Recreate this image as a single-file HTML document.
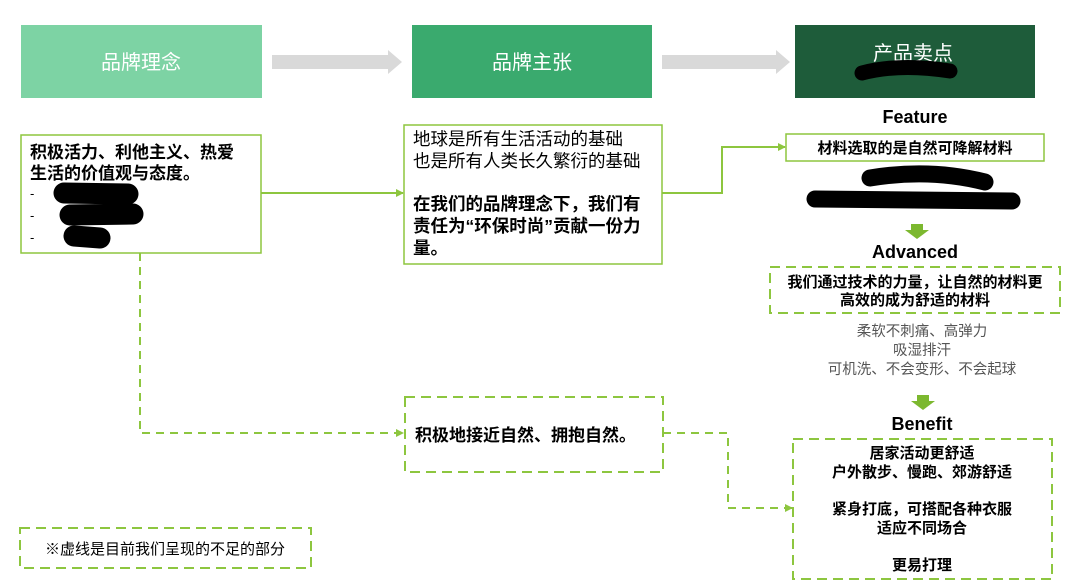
<!DOCTYPE html><html><head><meta charset="utf-8"><style>body{margin:0;background:#fff}svg{display:block}text{font-family:"Liberation Sans","Noto Sans CJK SC",sans-serif}</style></head><body>
<svg width="1080" height="584" xmlns="http://www.w3.org/2000/svg">
<defs><marker id="a" markerWidth="8" markerHeight="8" refX="7" refY="4" orient="auto" markerUnits="userSpaceOnUse"><path d="M0,0L8,4L0,8z" fill="#8dc63f"/></marker></defs>
<rect x="21" y="25" width="241" height="73" fill="#7dd3a4"/>
<text x="141" y="69" font-size="20" fill="#fff" text-anchor="middle">品牌理念</text>
<rect x="412" y="25" width="240" height="73" fill="#3aaa6e"/>
<text x="532" y="69" font-size="20" fill="#fff" text-anchor="middle">品牌主张</text>
<rect x="795" y="25" width="240" height="73" fill="#1e5c3a"/>
<text x="913" y="60" font-size="20" fill="#fff" text-anchor="middle">产品卖点</text>
<path d="M862,73 Q900,63 950,71" stroke="#000" stroke-width="15" stroke-linecap="round" fill="none"/>
<polygon points="272,55 388,55 388,50 402,62 388,74 388,69 272,69" fill="#d9d9d9"/>
<polygon points="662,55 776,55 776,50 790,62 776,74 776,69 662,69" fill="#d9d9d9"/>
<text x="915" y="123" font-size="18" font-weight="bold" text-anchor="middle">Feature</text>
<rect x="786" y="134" width="258" height="27" fill="#fff" stroke="#8dc63f" stroke-width="1.5"/>
<text x="915" y="153" font-size="15" font-weight="bold" text-anchor="middle">材料选取的是自然可降解材料</text>
<path d="M870,178 Q930,168 985,182" stroke="#000" stroke-width="17" stroke-linecap="round" fill="none"/>
<path d="M815,199 L1012,201" stroke="#000" stroke-width="17" stroke-linecap="round" fill="none"/>
<polygon points="911,224 923,224 923,230 929,230 917,239 905,230 911,230" fill="#7cb82f"/>
<text x="915" y="258" font-size="18" font-weight="bold" text-anchor="middle">Advanced</text>
<rect x="770" y="267" width="290" height="46" fill="#fff" stroke="#8dc63f" stroke-width="2" stroke-dasharray="10,6"/>
<text x="915" y="287" font-size="15" font-weight="bold" text-anchor="middle">我们通过技术的力量，让自然的材料更</text>
<text x="915" y="305" font-size="15" font-weight="bold" text-anchor="middle">高效的成为舒适的材料</text>
<text x="922" y="336" font-size="14.5" fill="#555" text-anchor="middle">柔软不刺痛、高弹力</text>
<text x="922" y="355" font-size="14.5" fill="#555" text-anchor="middle">吸湿排汗</text>
<text x="922" y="374" font-size="14.5" fill="#555" text-anchor="middle">可机洗、不会变形、不会起球</text>
<polygon points="917,395 929,395 929,401 935,401 923,410 911,401 917,401" fill="#7cb82f"/>
<text x="922" y="430" font-size="18" font-weight="bold" text-anchor="middle">Benefit</text>
<rect x="793" y="439" width="259" height="140" fill="#fff" stroke="#8dc63f" stroke-width="2" stroke-dasharray="10,6"/>
<g font-size="15" font-weight="bold" text-anchor="middle"><text x="922" y="458">居家活动更舒适</text><text x="922" y="477">户外散步、慢跑、郊游舒适</text><text x="922" y="514">紧身打底，可搭配各种衣服</text><text x="922" y="533">适应不同场合</text><text x="922" y="570">更易打理</text></g>
<rect x="21" y="135" width="240" height="118" fill="#fff" stroke="#8dc63f" stroke-width="1.5"/>
<text x="30" y="158" font-size="17" font-weight="bold">积极活力、利他主义、热爱</text>
<text x="30" y="179" font-size="17" font-weight="bold">生活的价值观与态度。</text>
<text x="30" y="198" font-size="13">-</text><text x="30" y="220" font-size="13">-</text><text x="30" y="242" font-size="13">-</text>
<path d="M64,193 L128,194 M70,215 L133,214 M74,236 L100,238" stroke="#000" stroke-width="21" stroke-linecap="round" fill="none"/>
<rect x="404" y="125" width="258" height="139" fill="#fff" stroke="#8dc63f" stroke-width="1.5"/>
<g font-size="17.5"><text x="413" y="145">地球是所有生活活动的基础</text><text x="413" y="167">也是所有人类长久繁衍的基础</text></g>
<g font-size="17.5" font-weight="bold"><text x="413" y="210">在我们的品牌理念下，我们有</text><text x="413" y="232">责任为“环保时尚”贡献一份力</text><text x="413" y="254">量。</text></g>
<path d="M261,193 L403,193" stroke="#8dc63f" stroke-width="2" fill="none" marker-end="url(#a)"/>
<path d="M662,193 L722,193 L722,147 L785,147" stroke="#8dc63f" stroke-width="2" fill="none" marker-end="url(#a)"/>
<path d="M140,253 L140,433 L403,433" stroke="#8dc63f" stroke-width="2" stroke-dasharray="8,6" fill="none" marker-end="url(#a)"/>
<rect x="405" y="397" width="258" height="75" fill="#fff" stroke="#8dc63f" stroke-width="2" stroke-dasharray="10,6"/>
<text x="415" y="441" font-size="17" font-weight="bold">积极地接近自然、拥抱自然。</text>
<path d="M663,433 L728,433 L728,508 L792,508" stroke="#8dc63f" stroke-width="2" stroke-dasharray="8,6" fill="none" marker-end="url(#a)"/>
<rect x="20" y="528" width="291" height="40" fill="#fff" stroke="#8dc63f" stroke-width="2" stroke-dasharray="10,6"/>
<text x="165" y="554" font-size="15" text-anchor="middle">※虚线是目前我们呈现的不足的部分</text>
</svg></body></html>
